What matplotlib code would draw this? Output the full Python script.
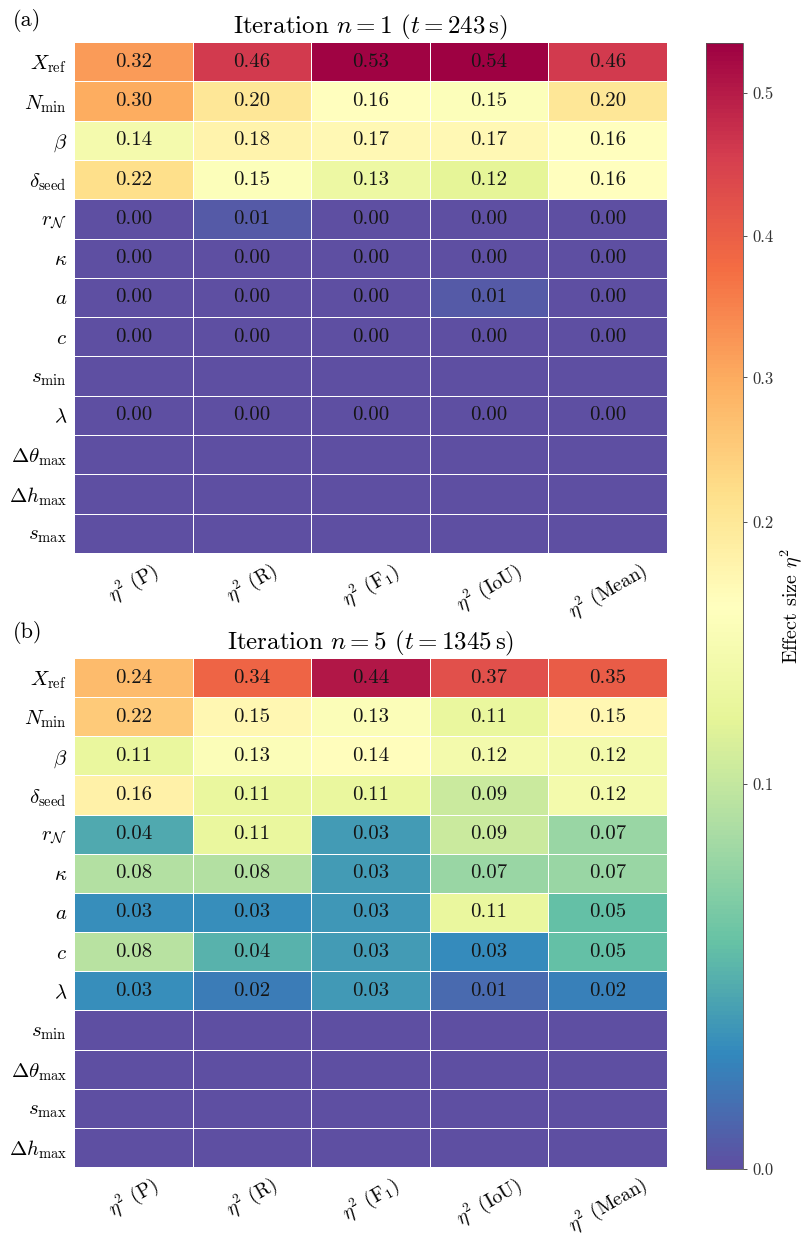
import numpy as np
import matplotlib
matplotlib.use("Agg")
import matplotlib.pyplot as plt
from matplotlib import colors

plt.rcParams['font.family'] = 'serif'
plt.rcParams['font.serif'] = ['cmr10', 'DejaVu Serif']
plt.rcParams['mathtext.fontset'] = 'cm'
plt.rcParams['axes.formatter.use_mathtext'] = True

# ---------------- data ----------------
columns = [r"$\eta^2$ (P)", r"$\eta^2$ (R)", r"$\eta^2$ (F$_1$)", r"$\eta^2$ (IoU)", r"$\eta^2$ (Mean)"]

rows_a = [r"$X_\mathrm{ref}$", r"$N_\mathrm{min}$", r"$\beta$", r"$\delta_\mathrm{seed}$",
          r"$r_\mathcal{N}$", r"$\kappa$", r"$a$", r"$c$", r"$s_\mathrm{min}$", r"$\lambda$",
          r"$\Delta\theta_\mathrm{max}$", r"$\Delta h_\mathrm{max}$", r"$s_\mathrm{max}$"]
values_a = [
    [0.32, 0.46, 0.53, 0.535, 0.46],
    [0.30, 0.20, 0.16, 0.15, 0.20],
    [0.14, 0.18, 0.17, 0.17, 0.16],
    [0.22, 0.15, 0.13, 0.12, 0.16],
    [0.00, 0.006, 0.00, 0.00, 0.00],
    [0.00, 0.00, 0.00, 0.00, 0.00],
    [0.00, 0.00, 0.00, 0.006, 0.00],
    [0.00, 0.00, 0.00, 0.00, 0.00],
    [None, None, None, None, None],
    [0.00, 0.00, 0.00, 0.00, 0.00],
    [None, None, None, None, None],
    [None, None, None, None, None],
    [None, None, None, None, None],
]

rows_b = [r"$X_\mathrm{ref}$", r"$N_\mathrm{min}$", r"$\beta$", r"$\delta_\mathrm{seed}$",
          r"$r_\mathcal{N}$", r"$\kappa$", r"$a$", r"$c$", r"$\lambda$", r"$s_\mathrm{min}$",
          r"$\Delta\theta_\mathrm{max}$", r"$s_\mathrm{max}$", r"$\Delta h_\mathrm{max}$"]
values_b = [
    [0.24, 0.34, 0.44, 0.37, 0.35],
    [0.22, 0.15, 0.13, 0.11, 0.15],
    [0.11, 0.13, 0.14, 0.12, 0.12],
    [0.16, 0.11, 0.11, 0.09, 0.12],
    [0.04, 0.11, 0.034, 0.09, 0.07],
    [0.08, 0.08, 0.034, 0.07, 0.07],
    [0.028, 0.028, 0.032, 0.11, 0.05],
    [0.082, 0.044, 0.034, 0.027, 0.05],
    [0.028, 0.02, 0.033, 0.012, 0.022],
    [None, None, None, None, None],
    [None, None, None, None, None],
    [None, None, None, None, None],
    [None, None, None, None, None],
]

titles = [r"Iteration $n=1$ ($t=243\,\mathrm{s}$)", r"Iteration $n=5$ ($t=1345\,\mathrm{s}$)"]
panel_labels = ["(a)", "(b)"]
cbar_ticks = [0.0, 0.1, 0.2, 0.3, 0.4, 0.5]
panel_vmax = [0.535, 0.465]

# colour-scale shape (fraction of vmax -> colormap position)
shape_frac = [0.0, 0.1 / 0.535, 0.15 / 0.535, 0.2 / 0.535, 0.3 / 0.535, 0.4 / 0.535, 0.5 / 0.535, 1.0]
shape_pos = [0.0, 0.342, 0.485, 0.575, 0.703, 0.829, 0.956, 1.0]


def make_norm(vmax):
    xs = [f * vmax for f in shape_frac]

    def fwd(v):
        return np.interp(np.asarray(v, dtype=float), xs, shape_pos)

    def inv(p):
        return np.interp(np.asarray(p, dtype=float), shape_pos, xs)

    return colors.FuncNorm((fwd, inv), vmin=0.0, vmax=vmax)


cmap = plt.get_cmap('Spectral_r').copy()
cmap.set_bad(cmap(0.0))

W, H = 806, 1240
fig = plt.figure(figsize=(W / 100, H / 100), dpi=100)


def px_axes(left, top, right, bottom):
    return fig.add_axes([left / W, 1 - bottom / H, (right - left) / W, (bottom - top) / H])


ax1 = px_axes(74, 42, 667, 553)
ax2 = px_axes(74, 658, 667, 1167)
cax = px_axes(706, 43, 743, 1169)

meshes = []
for k, (ax, rows, vals, title) in enumerate([(ax1, rows_a, values_a, titles[0]),
                                              (ax2, rows_b, values_b, titles[1])]):
    arr = np.array([[np.nan if v is None else v for v in r] for r in vals], dtype=float)
    marr = np.ma.masked_invalid(arr)
    mesh = ax.pcolormesh(marr, cmap=cmap, norm=make_norm(panel_vmax[k]),
                         edgecolors='white', linewidth=0.7)
    meshes.append(mesh)
    ax.set_xlim(0, arr.shape[1])
    ax.set_ylim(arr.shape[0], 0)
    for i in range(arr.shape[0]):
        for j in range(arr.shape[1]):
            if not np.isnan(arr[i, j]):
                ax.text(j + 0.5, i + 0.5, f"{arr[i, j]:.2f}", ha='center', va='center',
                        fontsize=15, color='#151515')
    ax.set_yticks(np.arange(arr.shape[0]) + 0.5)
    ax.set_yticklabels(rows, fontsize=15)
    ax.set_xticks(np.arange(arr.shape[1]) + 0.5)
    ax.set_xticklabels(columns, fontsize=14, rotation=30, ha='center', va='top')
    ax.tick_params(length=0, pad=5)
    ax.tick_params(axis='x', pad=4)
    for s in ax.spines.values():
        s.set_visible(False)
    ax.set_title(title, fontsize=18, pad=3)

fig.text(13 / W, 1 - 20 / H, panel_labels[0], fontsize=16, ha='left', va='center')
fig.text(13 / W, 1 - 632 / H, panel_labels[1], fontsize=16, ha='left', va='center')

cb = fig.colorbar(meshes[0], cax=cax)
cb.set_ticks(cbar_ticks)
cb.set_ticklabels([f"{t:.1f}" for t in cbar_ticks])
cb.ax.tick_params(labelsize=12, length=3, width=0.6, colors='#333333')
cb.outline.set_linewidth(0.6)
cb.outline.set_edgecolor('#555555')
cb.set_label(r"Effect size $\eta^2$", fontsize=14.5, labelpad=4)

fig.savefig("out.png", dpi=100)
